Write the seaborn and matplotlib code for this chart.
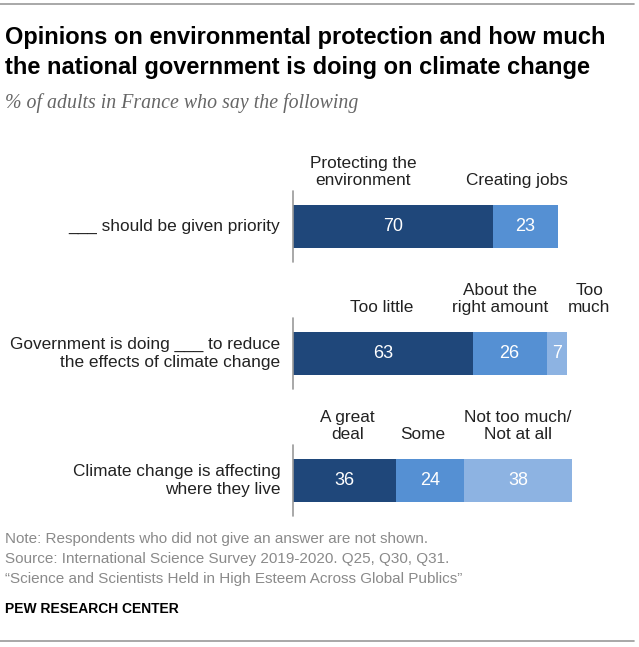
import numpy as np
import pandas as pd
import matplotlib
matplotlib.use('Agg')
import matplotlib.pyplot as plt
import seaborn as sns

sns.set_theme(style='white')
plt.rcParams['font.family'] = ['Liberation Sans', 'DejaVu Sans']

# Data
questions = ['___ should be given priority',
             'Government is doing ___ to reduce\nthe effects of climate change',
             'Climate change is affecting\nwhere they live']
seg1 = [70, 63, 36]
seg2 = [23, 26, 24]
seg3 = [0, 7, 38]
headers = [['Protecting the\nenvironment', 'Creating jobs'],
           ['Too little', 'About the\nright amount', 'Too\nmuch'],
           ['A great\ndeal', 'Some', 'Not too much/\nNot at all']]

# Layout of the header labels (x in percent units)
header_x = [[24.5, 78.5],
            [31, 72.5, 104],
            [19, 45.5, 79]]
header_off = -0.30

colors = ['#8db3e2', '#5590d3', '#1f477a']

df = pd.DataFrame({'q': questions, 's1': seg1, 's2': seg2, 's3': seg3})
df['c1'] = df['s1']
df['c2'] = df['s1'] + df['s2']
df['c3'] = df['c2'] + df['s3']

fig = plt.figure(figsize=(6.39, 6.47), dpi=100)
W, H = 639, 647
ax = fig.add_axes([293 / W, (H - 544) / H, 285 / W, 381 / H])

# cumulative bars, drawn back to front
for col, c in zip(['c3', 'c2', 'c1'], colors):
    sns.barplot(data=df, x=col, y='q', orient='h', color=c, width=0.34,
                saturation=1, ax=ax, linewidth=0)

ax.set_xlim(0, 100)
ax.set_ylim(2.5, -0.5)
ax.axis('off')

for i in range(len(questions)):
    vals = [seg1[i], seg2[i], seg3[i]]
    left = 0
    for v in vals:
        if v > 0:
            ax.text(left + v / 2, i, str(v), ha='center', va='center',
                    color='white', fontsize=13)
        left += v
    # axis tick line
    ax.plot([0, 0], [i - 0.28, i + 0.28], color='#999999', lw=1.2,
            clip_on=False)
    # question labels
    ax.text(-4.5, i, questions[i], ha='right', va='center', fontsize=12.4,
            color='#222222', linespacing=1.2)
    for lab, hx in zip(headers[i], header_x[i]):
        ax.text(hx, i + header_off, lab, ha='center', va='bottom',
                fontsize=12.4, color='#222222', linespacing=1.2,
                clip_on=False)

# titles
fig.text(5 / W, 1 - 26 / H, 'Opinions on environmental protection and how much\n'
         'the national government is doing on climate change',
         ha='left', va='top', fontsize=17, fontweight='bold',
         linespacing=1.38, color='black')
fig.text(5 / W, 1 - 103 / H, '% of adults in France who say the following',
         ha='left', va='center', fontsize=14.3, style='italic',
         family=['Liberation Serif'], color='#666666')

# notes
notes = ['Note: Respondents who did not give an answer are not shown.',
         'Source: International Science Survey 2019-2020. Q25, Q30, Q31.',
         '\u201cScience and Scientists Held in High Esteem Across Global Publics\u201d']
for k, n in enumerate(notes):
    fig.text(5 / W, 1 - (539 + 20 * k) / H, n, ha='left', va='center',
             fontsize=11, color='#8a8a8a')
fig.text(5 / W, 1 - 609 / H, 'PEW RESEARCH CENTER', ha='left', va='center',
         fontsize=10, fontweight='bold', color='black')

# top and bottom rules
fig.add_artist(plt.Line2D([0, 634 / W], [1 - 4 / H, 1 - 4 / H],
                          color='#999999', lw=1.2))
fig.add_artist(plt.Line2D([0, 634 / W], [1 - 641 / H, 1 - 641 / H],
                          color='#999999', lw=1.2))

fig.savefig('out.png', dpi=100)
